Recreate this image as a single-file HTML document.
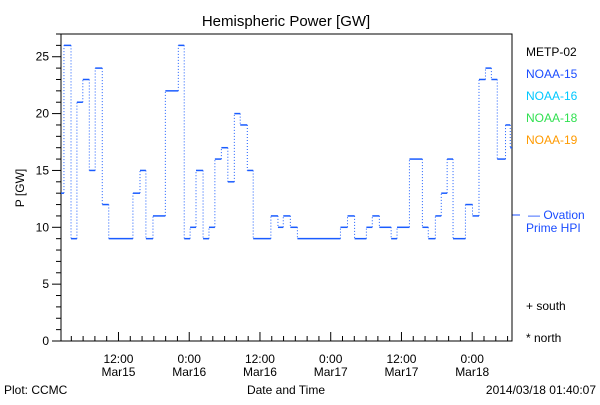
<!DOCTYPE html>
<html><head><meta charset="utf-8"><style>
body{margin:0;background:#fff;}
svg text{font-family:"Liberation Sans",sans-serif;font-size:12px;}
</style></head><body>
<svg id="chart" width="600" height="400">
<rect x="0" y="0" width="600" height="400" fill="#fff"/>
<text x="286" y="26" text-anchor="middle" font-size="15" style="font-size:15px">Hemispheric Power [GW]</text>
<text transform="translate(24,188) rotate(-90)" text-anchor="middle">P [GW]</text>
<text x="286" y="394" text-anchor="middle">Date and Time</text>
<text x="4" y="394">Plot: CCMC</text>
<text x="596" y="394" text-anchor="end">2014/03/18 01:40:07</text>
<g id="legend">
<text x="526" y="56" fill="#000">METP-02</text>
<text x="526" y="78" fill="#1a4cff">NOAA-15</text>
<text x="526" y="100" fill="#00c8ff">NOAA-16</text>
<text x="526" y="122" fill="#30e050">NOAA-18</text>
<text x="526" y="144" fill="#ff9a00">NOAA-19</text>
<text x="528" y="219" fill="#1a4cff">— Ovation</text>
<text x="526" y="232" fill="#1a4cff">Prime HPI</text>
<text x="526" y="310">+ south</text>
<text x="526" y="342">* north</text>
</g>
<line x1="512" y1="215" x2="520" y2="215" stroke="#1a4cff" stroke-width="1"/>
</svg>
<script>
const startHours = [0,0.5,1.7,2.7,3.7,4.8,5.8,7.0,8.1,12.2,13.4,14.4,15.6,17.7,19.9,20.9,21.9,22.9,24.1,25.1,26.1,27.2,28.3,29.4,30.4,31.6,32.6,35.6,36.8,37.7,38.9,40.1,47.4,48.6,49.8,51.8,52.8,54.0,56.0,57.0,59.1,61.3,62.3,63.5,64.5,65.5,66.5,68.6,69.8,70.9,72.0,73.0,74.0,75.4,76.2];
const powerValues = [13,26,9,21,23,15,24,12,9,13,15,9,11,22,26,9,10,15,9,10,16,17,14,20,19,15,9,11,10,11,10,9,10,11,9,10,11,10,9,10,16,10,9,11,13,16,9,12,11,23,24,23,16,19,17];
const endHour = 76.5;
const yTicks = [0,5,10,15,20,25];
const xTickHours = [9.75,21.75,33.75,45.75,57.75,69.75];
const xTickTime = ["12:00","0:00","12:00","0:00","12:00","0:00"];
const xTickDate = ["Mar15","Mar16","Mar16","Mar17","Mar17","Mar18"];

const svg=document.getElementById('chart');
const NS='http://www.w3.org/2000/svg';
const L=61,R=512,T=34,B=341;
const yMax=27;
function xs(h){return L+h/endHour*(R-L);}
function ys(v){return B-v/yMax*(B-T);}
function mk(tag,attrs){const e=document.createElementNS(NS,tag);for(const k in attrs)e.setAttribute(k,attrs[k]);svg.appendChild(e);return e;}

const frame=mk('rect',{x:L,y:T,width:R-L,height:B-T,fill:'none',stroke:'#000','stroke-width':1});



for(let v=0;v<=yMax;v++){
  const major=v%5===0;
  const t=mk('line',{x1:L-(major?9:5),x2:L,y1:ys(v),y2:ys(v),stroke:'#000'});
  
  
}
yTicks.forEach(v=>{
  const t=mk('text',{x:L-12,y:ys(v)+4,'text-anchor':'end'});t.textContent=v;
  
  
});
for(let h=1.75;h<endHour;h+=2){
  const major=xTickHours.some(m=>Math.abs(m-h)<0.01);
  const t=mk('line',{x1:xs(h),x2:xs(h),y1:B,y2:B-(major?9:5),stroke:'#000'});
  
  
}
xTickHours.forEach((h,i)=>{
  const a=mk('text',{x:xs(h),y:B+22,'text-anchor':'middle'});a.textContent=xTickTime[i];
  
  
  const b=mk('text',{x:xs(h),y:B+35,'text-anchor':'middle'});b.textContent=xTickDate[i];
  
  
});

powerValues.forEach((v,i)=>{
  const x1=xs(startHours[i]);
  const x2=xs(i+1<startHours.length?startHours[i+1]:endHour);
  const s=mk('line',{x1:x1,x2:x2,y1:ys(v),y2:ys(v),stroke:'#1a5cff','stroke-width':1.5});
  
  
  if(i+1<powerValues.length){
    const d=mk('line',{x1:x2,x2:x2,y1:ys(v),y2:ys(powerValues[i+1]),stroke:'#1a5cff','stroke-width':1,'stroke-dasharray':'1,2'});
    
    
  }
});
</script>
</body></html>
